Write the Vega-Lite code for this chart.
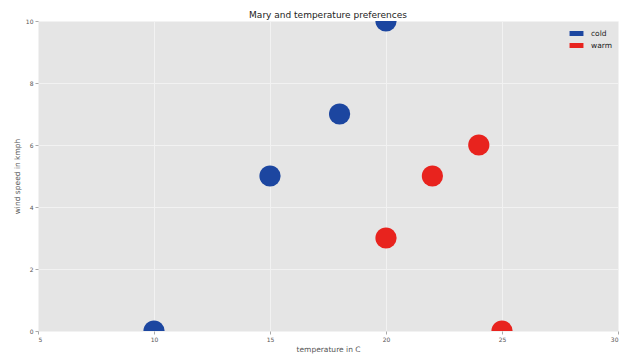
{
  "$schema": "https://vega.github.io/schema/vega-lite/v6.json",
  "width": 580,
  "height": 310,
  "autosize": {"type": "none"},
  "padding": {"left": 38, "top": 21, "right": 22, "bottom": 33},
  "background": "white",
  "title": {"text": "Mary and temperature preferences", "fontSize": 9, "font": "DejaVu Sans", "fontWeight": "normal", "color": "#222", "offset": -2},
  "config": {
    "view": {"fill": "#e5e5e5", "stroke": null},
    "axis": {"gridColor": "#f2f2f2", "gridWidth": 1, "domain": false, "tickColor": "#aaa", "tickSize": 3, "labelColor": "#555", "labelFont": "DejaVu Sans", "labelFontSize": 6, "titleFont": "DejaVu Sans", "titleFontSize": 7.5, "titleFontWeight": "normal", "titleColor": "#555"}
  },
  "data": {"values": [
    {"temp": 10, "wind": 0, "pref": "cold"},
    {"temp": 15, "wind": 5, "pref": "cold"},
    {"temp": 18, "wind": 7, "pref": "cold"},
    {"temp": 20, "wind": 10, "pref": "cold"},
    {"temp": 20, "wind": 3, "pref": "warm"},
    {"temp": 22, "wind": 5, "pref": "warm"},
    {"temp": 24, "wind": 6, "pref": "warm"},
    {"temp": 25, "wind": 0, "pref": "warm"}
  ]},
  "mark": {"type": "circle", "size": 450, "opacity": 1, "clip": true},
  "encoding": {
    "x": {"field": "temp", "type": "quantitative", "scale": {"domain": [5, 30], "nice": false, "zero": false}, "axis": {"values": [5, 10, 15, 20, 25, 30], "title": "temperature in C", "titlePadding": 3, "labelPadding": 2}},
    "y": {"field": "wind", "type": "quantitative", "scale": {"domain": [0, 10], "nice": false}, "axis": {"values": [0, 2, 4, 6, 8, 10], "title": "wind speed in kmph", "titlePadding": 4, "labelPadding": 2}},
    "color": {"field": "pref", "type": "nominal", "scale": {"domain": ["cold", "warm"], "range": ["#1c46a0", "#e8231e"]},
      "legend": {"title": null, "orient": "none", "legendX": 527, "legendY": 1, "symbolType": "M-1.1,-0.4H1.1V0.4H-1.1Z", "symbolSize": 160, "labelFontSize": 7.5, "labelFont": "DejaVu Sans", "labelColor": "#222", "labelOffset": 7, "rowPadding": 1, "fillColor": "#e5e5e5", "padding": 4}}
  }
}
